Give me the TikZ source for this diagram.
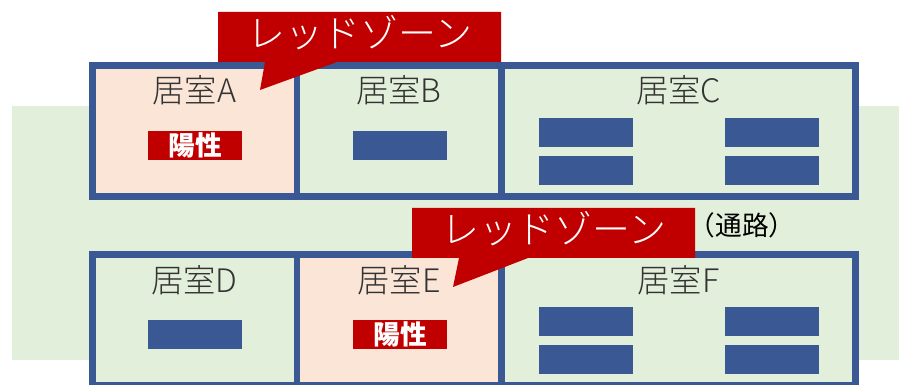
\documentclass[tikz,border=0pt]{standalone}
\usepackage{fontspec}
\setmainfont{Noto Sans CJK JP}
\newfontfamily\lightfont{Noto Sans CJK JP Light}
\definecolor{wallblue}{HTML}{3A5894}
\definecolor{zonered}{HTML}{C00000}
\definecolor{corridor}{HTML}{E2EFDA}
\definecolor{sickroom}{HTML}{FBE5D6}
\definecolor{labelgray}{HTML}{333333}

\begin{document}
\begin{tikzpicture}[x=0.025cm,y=-0.025cm,
  wall/.style={draw=wallblue,line width=4.96pt},
  bed/.style={fill=wallblue},
  roomlabel/.style={text=labelgray,font=\lightfont\fontsize{23}{27}\selectfont},
  positive/.style={fill=zonered,text=white,inner sep=0pt,minimum width=2.35cm,
    minimum height=0.725cm,font=\bfseries\fontsize{19}{22}\selectfont},
  zonetext/.style={text=white,font=\lightfont\fontsize{27}{31}\selectfont}]
  \useasboundingbox (0,0) rectangle (899,385);
  \clip (0,0) rectangle (899,385);

  % Corridor
  \fill[corridor] (12,106) rectangle (899,360);

  % Upper rooms
  \fill[sickroom] (92.5,65.5) rectangle (297,196.5);
  \fill[corridor] (297,65.5) rectangle (855.5,196.5);
  \draw[wall] (92.5,65.5) rectangle (855.5,196.5)
    (297,65.5) -- (297,196.5) (501.5,65.5) -- (501.5,196.5);

  % Lower rooms
  \fill[corridor] (92.5,254.5) rectangle (297,385.5);
  \fill[sickroom] (297,254.5) rectangle (501.5,385.5);
  \fill[corridor] (501.5,254.5) rectangle (855.5,385.5);
  \draw[wall] (92.5,254.5) rectangle (855.5,385.5)
    (297,254.5) -- (297,385.5) (501.5,254.5) -- (501.5,385.5);

  % Beds
  \fill[bed] (353,131) rectangle +(94,29);
  \fill[bed] (148,320) rectangle +(94,29);
  \foreach \x in {539,725}
    \foreach \y in {118,156,307,345}
      \fill[bed] (\x,\y) rectangle +(94,29);

  % Positive patients
  \node[positive] (posA) at (195,145.5) {陽性};
  \node[positive] (posE) at (400,334.5) {陽性};

  % Room names
  \node[roomlabel] (labA) at (194.5,90) {居室A};
  \node[roomlabel] (labB) at (399,90) {居室B};
  \node[roomlabel] (labC) at (678.5,90) {居室C};
  \node[roomlabel] (labD) at (194.5,280) {居室D};
  \node[roomlabel] (labE) at (399,280) {居室E};
  \node[roomlabel] (labF) at (678.5,280) {居室F};
  \node[text=black,font=\fontsize{19}{23}\selectfont] (path) at (742,225) {（通路）};

  % Red zone callouts
  \fill[zonered] (218,12) -- (501,12) -- (501,62) -- (337,62) -- (260,90)
    -- (265,62) -- (218,62) -- cycle;
  \node[zonetext] (zoneA) at (360,33) {レッドゾーン};
  \fill[zonered] (412,208) -- (695,208) -- (695,258) -- (528,258) -- (453,287)
    -- (459,258) -- (412,258) -- cycle;
  \node[zonetext] (zoneE) at (554,229) {レッドゾーン};
\end{tikzpicture}
\end{document}
